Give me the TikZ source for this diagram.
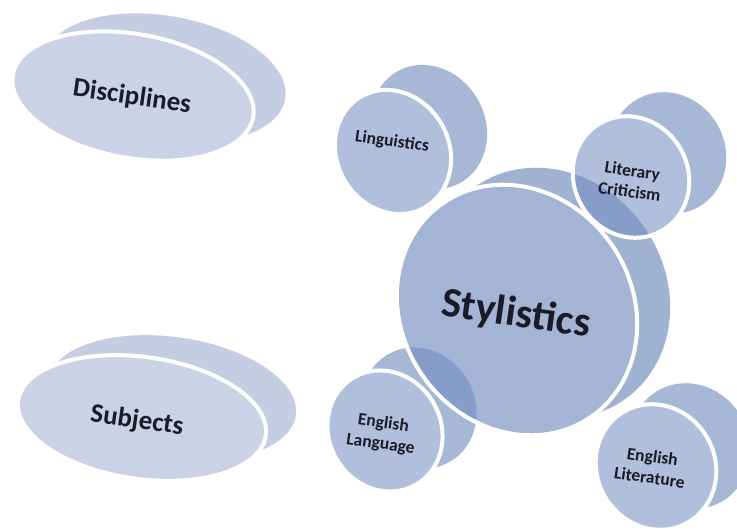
\documentclass[tikz,border=0pt]{standalone}
\usepackage{fontspec}
\setmainfont{Carlito}
\definecolor{ovalfrontc}{HTML}{CBD2E6}
\definecolor{ovalbackc}{HTML}{C4CDE1}
\definecolor{styfrontc}{HTML}{A3B4D4}
\definecolor{stybackc}{HTML}{A0B2D2}
\definecolor{smallfrontc}{HTML}{B0C0DC}
\definecolor{smallbackc}{HTML}{A6B8D6}
\definecolor{lensc}{HTML}{859DC8}
\definecolor{labeltext}{HTML}{1A1A28}
\newcommand\pStyF{(517,221) ellipse [x radius=115, y radius=130, rotate=35]}
\newcommand\pStyB{(550,238) ellipse [x radius=115, y radius=130, rotate=35]}
\newcommand\pLingF{(393,379) ellipse [x radius=56, y radius=64, rotate=30]}
\newcommand\pLingB{(429,404) ellipse [x radius=56, y radius=64, rotate=30]}
\newcommand\pLCF{(631,354) ellipse [x radius=57, y radius=62, rotate=30]}
\newcommand\pLCB{(668,378) ellipse [x radius=57, y radius=62, rotate=30]}
\newcommand\pELF{(385,100) ellipse [x radius=56, y radius=62, rotate=30]}
\newcommand\pELB{(419,123) ellipse [x radius=56, y radius=62, rotate=30]}
\newcommand\pELitF{(656,64) ellipse [x radius=59, y radius=64, rotate=30]}
\newcommand\pELitB{(690,85) ellipse [x radius=59, y radius=64, rotate=30]}
\begin{document}
\begin{tikzpicture}[x=1pt,y=1pt,
  whiteline/.style={draw=white, line width=4pt},
  ovalback/.style={fill=ovalbackc},
  ovalfront/.style={fill=ovalfrontc, whiteline},
  styback/.style={fill=stybackc},
  styfront/.style={fill=styfrontc, whiteline},
  smallback/.style={fill=smallbackc},
  smallfront/.style={fill=smallfrontc, whiteline},
  lens/.style={fill=lensc},
  lbl/.style={text=labeltext, align=center, rotate=-8, inner sep=0pt},
  bigfont/.style={font=\bfseries\fontsize{27}{30}\selectfont},
  smallfont/.style={font=\bfseries\fontsize{17.5}{21}\selectfont}]
\useasboundingbox (0,0) rectangle (737,531);
% oval discs
\path[ovalback] (165,453) ellipse [x radius=122, y radius=62, rotate=-10];
\path[ovalfront] (133,435) ellipse [x radius=122, y radius=62, rotate=-10];
\path[ovalback] (172,133) ellipse [x radius=125, y radius=61, rotate=-8];
\path[ovalfront] (142,113) ellipse [x radius=125, y radius=61, rotate=-8];
% Stylistics
\path[styback] \pStyB;
\path[styfront] \pStyF;
% Linguistics
\path[smallback] \pLingB;
\path[smallfront] \pLingF;
% Literary Criticism
\path[smallback] \pLCB;
\path[fill=smallfrontc] \pLCF;
\begin{scope}
  \clip \pLCF;
  \path[lens] \pStyB;
\end{scope}
\path[whiteline] \pLCF;
% English Language
\path[smallback] \pELB;
\begin{scope}
  \clip \pStyF;
  \path[lens] \pELB;
\end{scope}
\begin{scope}
  \clip \pELB;
  \path[whiteline] \pStyF;
\end{scope}
\path[smallfront] \pELF;
% English Literature
\path[smallback] \pELitB;
\path[smallfront] \pELitF;
% labels
\node[lbl, bigfont] (disc) at (132,434) {Disciplines};
\node[lbl, bigfont] (subj) at (137,110) {Subjects};
\node[lbl, font=\bfseries\fontsize{42}{42}\selectfont] (styl) at (516,216) {Stylistics};
\node[lbl, smallfont] (ling) at (392,389) {Linguistics};
\node[lbl, smallfont] (litc) at (631,350) {Literary\\Criticism};
\node[lbl, smallfont] (engl) at (382,97) {English\\Language};
\node[lbl, smallfont] (engt) at (651,64) {English\\Literature};
\end{tikzpicture}
\end{document}
